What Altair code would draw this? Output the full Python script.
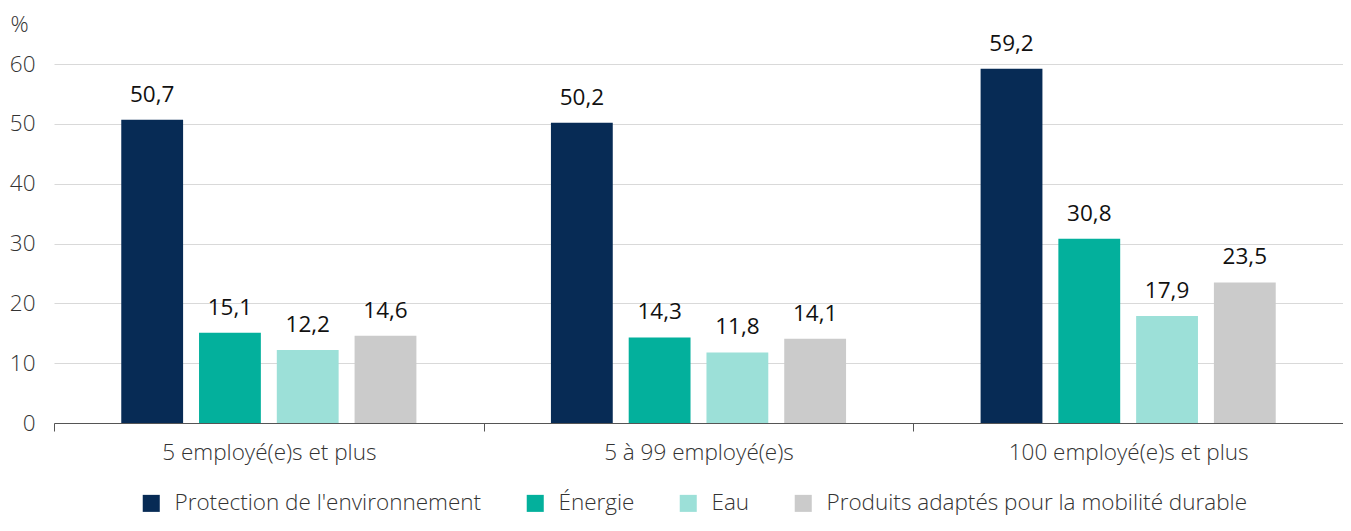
import altair as alt
import pandas as pd

groups = ["5 employé(e)s et plus", "5 à 99 employé(e)s", "100 employé(e)s et plus"]
series = ["Protection de l'environnement", "Énergie", "Eau", "Produits adaptés pour la mobilité durable"]
protection = [50.7, 50.2, 59.2]
energie = [15.1, 14.3, 30.8]
eau = [12.2, 11.8, 17.9]
produits = [14.6, 14.1, 23.5]
colors = ["#072B55", "#03B09C", "#9CE0D8", "#CBCBCB"]

rows = []
for s, vals in zip(series, [protection, energie, eau, produits]):
    for g, v in zip(groups, vals):
        rows.append({"group": g, "series": s, "value": v})
df = pd.DataFrame(rows)

FONT = "Open Sans"
FS = 22.5

x = alt.X("group:N", sort=groups, title=None,
          scale=alt.Scale(paddingInner=0, paddingOuter=0),
          axis=alt.Axis(labelAngle=0, labelFontSize=FS, labelFont=FONT, labelFontWeight=300,
                        labelColor="#333333", domainColor="#555555", tickColor="#555555",
                        tickSize=8, tickBand="extent", labelPadding=10, grid=False,
                        labelLimit=0))
xo = alt.XOffset("series:N", sort=series,
                 scale=alt.Scale(paddingInner=0.205, paddingOuter=0.865))
y = alt.Y("value:Q", scale=alt.Scale(domain=[0, 60], nice=False),
          axis=alt.Axis(values=[0, 10, 20, 30, 40, 50, 60], title="%", titleAngle=0,
                        titleX=-44, titleY=-40, titleAlign="left", titleBaseline="middle",
                        titleFontSize=FS, titleFont=FONT, titleFontWeight=300, titleColor="#333333",
                        labelFontSize=FS, labelFont=FONT, labelFontWeight=300, labelColor="#333333",
                        labelPadding=19, domain=False, ticks=False,
                        gridColor="#d9d9d9"))

bars = alt.Chart(df).mark_bar().encode(
    x=x, xOffset=xo, y=y,
    color=alt.Color("series:N", sort=series,
                    scale=alt.Scale(domain=series, range=colors),
                    legend=alt.Legend(title=None, orient="none", legendX=86, legendY=428,
                                      direction="horizontal",
                                      symbolType="square", symbolSize=290, symbolStrokeWidth=0,
                                      labelFontSize=FS, labelFont=FONT, labelFontWeight=300,
                                      labelColor="#333333", columnPadding=42, labelOffset=12,
                                      symbolOpacity=1, labelLimit=0)),
)

labels = alt.Chart(df).transform_calculate(
    label="replace(format(datum.value, '.1f'), '.', ',')"
).mark_text(baseline="middle", dy=-25, fontSize=FS, font=FONT, color="#111111").encode(
    x=x, xOffset=xo, y=y, text="label:N"
)

chart = (bars + labels).properties(
    width=1289, height=359,
    autosize=alt.AutoSizeParams(type="none"),
    padding={"left": 46, "top": 56, "right": 0, "bottom": 95},
).configure_view(stroke=None)

chart.save("out.html", embed_options={"renderer": "svg", "actions": False})
